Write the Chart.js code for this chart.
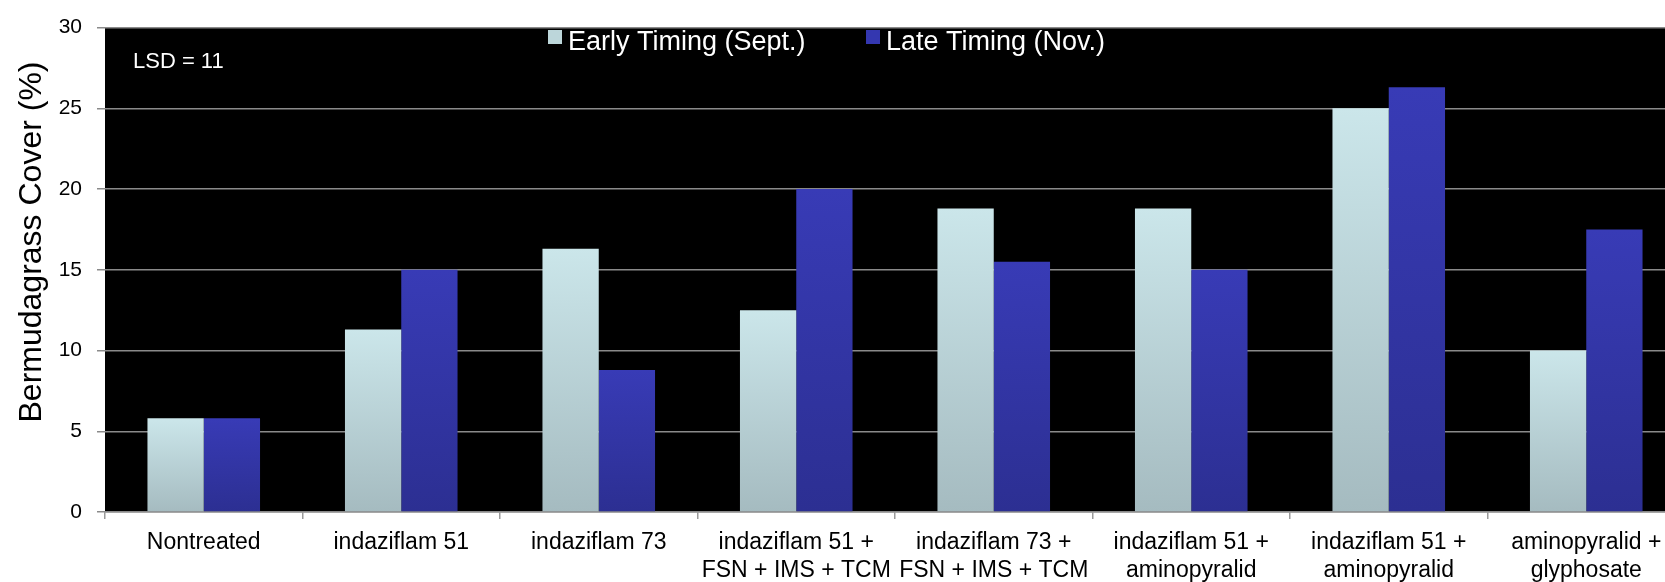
<!DOCTYPE html>
<html>
<head>
<meta charset="utf-8">
<script src="https://cdn.jsdelivr.net/npm/chart.js@4"></script>
<style>
  html, body { margin: 0; padding: 0; background: #fff; overflow: hidden; }
  #wrap { width: 1700px; height: 582px; }
</style>
</head>
<body>
<div id="wrap"><canvas id="c" width="1700" height="582"></canvas></div>
<script>
// Treatments along the x axis (two-line labels where the name wraps)
const categories = [
  'Nontreated',
  'indaziflam 51',
  'indaziflam 73',
  ['indaziflam 51 +', 'FSN + IMS + TCM'],
  ['indaziflam 73 +', 'FSN + IMS + TCM'],
  ['indaziflam 51 +', 'aminopyralid'],
  ['indaziflam 51 +', 'aminopyralid'],
  ['aminopyralid +', 'glyphosate']
];

// Bermudagrass cover (%) per application timing
const earlyTiming = [5.8, 11.3, 16.3, 12.5, 18.8, 18.8, 25.0, 10.0];
const lateTiming  = [5.8, 15.0, 8.8, 20.0, 15.5, 15.0, 26.3, 17.5];
const seriesNames = ['Early Timing (Sept.)', 'Late Timing (Nov.)'];

// Value axis range and step
const yMin = 0;
const yMax = 30;
const yStep = 5;
const yTitle = 'Bermudagrass Cover (%)';

// Least significant difference note
const lsdValue = 11;

const FONT = '"Liberation Sans", Arial, Helvetica, sans-serif';
Chart.defaults.font.family = FONT;

// Vertical gradient running from the top of each bar down to zero
function barGradient(topColor, bottomColor) {
  return (ctx) => {
    const chart = ctx.chart;
    if (!chart.chartArea || ctx.type !== 'data') return topColor;
    const y = chart.scales.y;
    const yTop = y.getPixelForValue(ctx.parsed.y);
    const yBase = y.getPixelForValue(0);
    if (!isFinite(yTop) || yTop === yBase) return topColor;
    const g = chart.ctx.createLinearGradient(0, yTop, 0, yBase);
    g.addColorStop(0, topColor);
    g.addColorStop(1, bottomColor);
    return g;
  };
}

const earlyTop = '#cbe6ea', earlyBottom = '#a5bbc0';
const lateTop = '#383bb6', lateBottom = '#2c2f92';

// Black plotting area behind grid and bars
const plotBackground = {
  id: 'plotBackground',
  beforeDraw(chart) {
    const { ctx, chartArea: a } = chart;
    ctx.save();
    ctx.fillStyle = '#000';
    ctx.fillRect(a.left, a.top, a.right - a.left, a.bottom - a.top);
    ctx.restore();
  }
};

// Axis title, legend and LSD note
const annotations = {
  id: 'annotations',
  afterDraw(chart) {
    const { ctx } = chart;
    ctx.save();

    // rotated value-axis title
    ctx.save();
    ctx.translate(41, 242);
    ctx.rotate(-Math.PI / 2);
    ctx.fillStyle = '#000';
    ctx.font = '32px ' + FONT;
    ctx.textAlign = 'center';
    ctx.textBaseline = 'alphabetic';
    ctx.fillText(yTitle, 0, 0);
    ctx.restore();

    ctx.fillStyle = '#fff';
    ctx.textBaseline = 'alphabetic';
    ctx.font = '22px ' + FONT;
    ctx.fillText('LSD = ' + lsdValue, 133, 68);

    const items = [
      { x: 548, color: '#bcd6da' },
      { x: 866, color: '#3437b0' }
    ];
    ctx.font = '27px ' + FONT;
    chart.data.datasets.forEach((ds, i) => {
      const it = items[i];
      ctx.fillStyle = it.color;
      ctx.fillRect(it.x, 30, 14, 14);
      ctx.fillStyle = '#fff';
      ctx.fillText(ds.label, it.x + 20, 50);
    });
    ctx.restore();
  }
};

new Chart(document.getElementById('c'), {
  type: 'bar',
  data: {
    labels: categories,
    datasets: [
      {
        label: seriesNames[0],
        data: earlyTiming,
        backgroundColor: barGradient(earlyTop, earlyBottom),
        borderWidth: 0,
        categoryPercentage: 0.57,
        barPercentage: 1.0
      },
      {
        label: seriesNames[1],
        data: lateTiming,
        backgroundColor: barGradient(lateTop, lateBottom),
        borderWidth: 0,
        categoryPercentage: 0.57,
        barPercentage: 1.0
      }
    ]
  },
  options: {
    responsive: false,
    animation: false,
    layout: { padding: { top: 20, right: 15, left: 0, bottom: 0 } },
    plugins: {
      legend: { display: false },
      tooltip: { enabled: false }
    },
    scales: {
      x: {
        grid: {
          display: true,
          offset: true,
          drawOnChartArea: false,
          drawTicks: true,
          tickLength: 7,
          color: '#9a9a9a',
          lineWidth: 1.5
        },
        border: { display: true, color: '#8a8a8a', width: 1.5 },
        ticks: {
          color: '#000',
          font: { size: 23, lineHeight: 1.25 },
          padding: 9,
          maxRotation: 0,
          autoSkip: false
        },
        afterFit(scale) { scale.height = 70; }
      },
      y: {
        min: yMin,
        max: yMax,
        grid: {
          color: '#8a8a8a',
          lineWidth: 1.5,
          drawTicks: true,
          tickLength: 8
        },
        border: { display: false },
        ticks: {
          stepSize: yStep,
          color: '#000',
          font: { size: 21 },
          padding: 15
        },
        title: { display: false },
        afterFit(scale) { scale.width = 105; }
      }
    }
  },
  plugins: [plotBackground, annotations]
});
</script>
</body>
</html>
